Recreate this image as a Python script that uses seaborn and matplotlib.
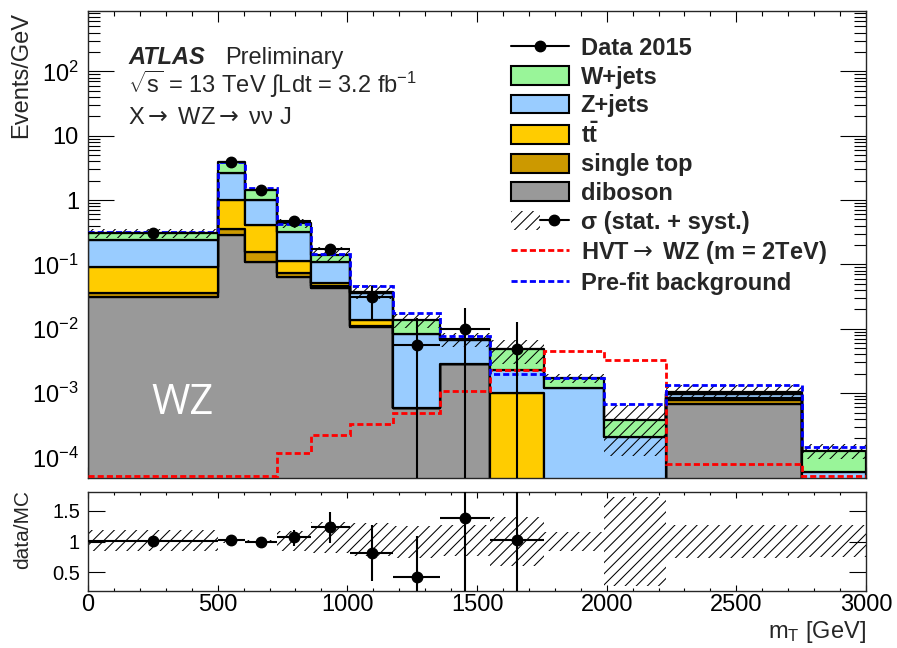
import numpy as np
import pandas as pd
import matplotlib
matplotlib.use("Agg")
import matplotlib.pyplot as plt
from matplotlib.patches import Patch
from matplotlib.lines import Line2D
from matplotlib.legend_handler import HandlerTuple
from matplotlib.ticker import MultipleLocator, FuncFormatter, NullFormatter, FixedLocator, FixedFormatter
import seaborn as sns

# ---- binning (GeV) ----
edges = [0, 500, 605, 727, 860, 1010, 1177, 1357, 1550, 1758, 1990, 2230, 2752, 3000]

# ---- background expectations (Events/GeV) ----
wjets     = [0.068, 1.25, 0.42, 0.113, 0.030, 0.0021, 0.0054, 0.0002, 0.0025, 0.0005, 0.00017, 0.00008, 0.000066]
zjets     = [0.147, 1.60, 0.58, 0.207, 0.058, 0.0218, 0.0077, 0.0039, 0.0013, 0.0012, 0.00021, 0.00012, 0.00006]
ttbar     = [0.056, 0.64, 0.26, 0.040, 0.0045, 0.0026, 0.0, 0.0, 0.00099, 0.0, 0.0, 0.00005, 0.0]
singletop = [0.005, 0.07, 0.047, 0.011, 0.004, 0.0003, 0.0, 0.0, 0.0, 0.0, 0.0, 0.00012, 0.0]
diboson   = [0.031, 0.29, 0.11, 0.063, 0.043, 0.0107, 0.00058, 0.0028, 0.0, 0.0, 0.0, 0.00067, 0.0]

# pre-fit total background and 2 TeV HVT signal
prefit = [0.32, 3.95, 1.52, 0.43, 0.148, 0.0465, 0.0179, 0.0077, 0.0020, 0.00172, 0.00067, 0.00136, 0.000143]
signal = [5.2e-5, 5.2e-5, 5.2e-5, 1.17e-4, 2.25e-4, 3.3e-4, 5.0e-4, 1.08e-3, 2.33e-3, 4.53e-3, 3.25e-3, 8.0e-5, 5.2e-5]

# relative background uncertainty (stat. + syst.)
band_hi = [1.18, 1.02, 1.02, 1.17, 1.32, 1.30, 1.25, 1.27, 1.40, 1.16, 1.72, 1.27, 1.27]
band_lo = [0.84, 0.98, 0.98, 0.84, 0.82, 0.77, 0.74, 0.76, 0.60, 0.84, 0.28, 0.73, 0.75]

# ---- data 2015 (first nine bins populated) ----
data    = [0.31, 3.90, 1.42, 0.47, 0.177, 0.0313, 0.0057, 0.0101, 0.0049]
data_up = [0.33, 4.00, 1.47, 0.51, 0.210, 0.0465, 0.0145, 0.0207, 0.0128]
data_dn = [0.29, 3.80, 1.37, 0.43, 0.145, 0.0141, 1e-6, 1e-6, 1e-6]

# ---- data / MC ----
ratio    = [1.01, 1.02, 0.99, 1.08, 1.23, 0.81, 0.42, 1.38, 1.03]
ratio_up = [1.03, 1.04, 1.01, 1.19, 1.48, 1.27, 1.09, 2.50, 2.50]
ratio_dn = [0.99, 1.00, 0.97, 0.93, 0.98, 0.355, 0.0, 0.0, 0.0]

# axis ticks
y_decades = [1e-4, 1e-3, 1e-2, 1e-1, 1, 10, 100]
ratio_ticks = [0.5, 1.0, 1.5]
ratio_ticklabels = ["0.5", "1", "1.5"]

processes = ["W+jets", "Z+jets", "ttbar", "single top", "diboson"]
colors = {"W+jets": "#99f599", "Z+jets": "#99ccff", "ttbar": "#ffcc00",
          "single top": "#cc9900", "diboson": "#999999"}

sns.set_style("ticks")
plt.rcParams["font.family"] = ["Liberation Sans", "DejaVu Sans"]
plt.rcParams["mathtext.fontset"] = "custom"
plt.rcParams["mathtext.rm"] = "Liberation Sans"
plt.rcParams["mathtext.it"] = "Liberation Sans:italic"
plt.rcParams["mathtext.bf"] = "Liberation Sans:bold"
plt.rcParams["mathtext.sf"] = "DejaVu Sans"
plt.rcParams["mathtext.default"] = "regular"
plt.rcParams["hatch.color"] = "black"
plt.rcParams["hatch.linewidth"] = 0.75
plt.rcParams["axes.linewidth"] = 1.0

ARROW = r"$\mathsf{\rightarrow}$"
HATCH = "///"

edges_a = np.array(edges, dtype=float)
centers = 0.5 * (edges_a[:-1] + edges_a[1:])
halfw = 0.5 * np.diff(edges_a)

rows = []
for name, vals in zip(processes, [wjets, zjets, ttbar, singletop, diboson]):
    for c, v in zip(centers, vals):
        rows.append({"mT": c, "rate": v, "process": name})
df = pd.DataFrame(rows)

W, H = 897, 648
fig = plt.figure(figsize=(W / 100, H / 100), dpi=100)
x0, x1 = 88, 866
ax = fig.add_axes([x0 / W, 1 - 478 / H, (x1 - x0) / W, (478 - 11) / H])
rax = fig.add_axes([x0 / W, 1 - 591 / H, (x1 - x0) / W, (591 - 492) / H])

ax.set_yscale("log")
sns.histplot(data=df, x="mT", weights="rate", hue="process", hue_order=processes,
             palette=colors, bins=edges, multiple="stack", element="step",
             stat="count", alpha=1, edgecolor="black", linewidth=1.6,
             legend=False, ax=ax, zorder=2)

total = np.array(wjets) + np.array(zjets) + np.array(ttbar) + np.array(singletop) + np.array(diboson)
lo = total * np.array(band_lo)
hi = total * np.array(band_hi)
ax.fill_between(edges_a, np.append(lo, lo[-1]), np.append(hi, hi[-1]), step="post",
                facecolor="none", edgecolor="black", hatch=HATCH, linewidth=0, zorder=3)

ax.stairs(signal, edges_a, baseline=None, color="#ff0000", linewidth=2,
          linestyle=(0, (2.2, 1.1)), zorder=4)
ax.stairs(prefit, edges_a, baseline=None, color="#0000ff", linewidth=2,
          linestyle=(0, (2.2, 1.1)), zorder=4)

nd = len(data)
d = np.array(data)
ax.errorbar(centers[:nd], d, xerr=halfw[:nd],
            yerr=[d - np.array(data_dn), np.array(data_up) - d],
            fmt="o", color="black", ms=7.5, elinewidth=1.5, capsize=0, zorder=6)

ax.set_xlim(0, 3000)
ax.set_ylim(4.8e-5, 870)
ax.set_xlabel("")
ax.set_ylabel("")
ax.xaxis.set_major_locator(MultipleLocator(500))
ax.xaxis.set_minor_locator(MultipleLocator(100))
ax.yaxis.set_major_locator(FixedLocator(y_decades))
minor_y = [m * dec for dec in [1e-5] + y_decades for m in range(2, 10)]
ax.yaxis.set_minor_locator(FixedLocator([v for v in minor_y if 4.8e-5 < v < 870]))
ax.yaxis.set_minor_formatter(NullFormatter())


def log_label(v, pos):
    e = int(round(np.log10(v)))
    if e == 0:
        return "1"
    if e == 1:
        return "10"
    return r"$10^{%d}$" % e


ax.yaxis.set_major_formatter(FuncFormatter(log_label))
ax.tick_params(which="both", direction="in", top=True, right=True, labelbottom=False,
               width=0.8, colors="black")
ax.tick_params(axis="y", which="major", length=18.5, labelsize=17, pad=6.5)
ax.tick_params(axis="y", which="minor", length=8.6)
ax.tick_params(axis="x", which="major", length=8)
ax.tick_params(axis="x", which="minor", length=3.6)

ax.text(0.122, 0.16, "WZ", transform=ax.transAxes, color="white", fontsize=30,
        family=["Open Sans", "DejaVu Sans"], ha="center", va="center")

# ---- ratio panel ----
rlo = np.array(band_lo)
rhi = np.array(band_hi)
rax.fill_between(edges_a, np.append(rlo, rlo[-1]), np.append(rhi, rhi[-1]), step="post",
                 facecolor="none", edgecolor="black", hatch=HATCH, linewidth=0, zorder=2)
r = np.array(ratio)
rax.errorbar(centers[:nd], r, xerr=halfw[:nd],
             yerr=[r - np.array(ratio_dn), np.array(ratio_up) - r],
             fmt="o", color="black", ms=7.5, elinewidth=1.5, capsize=0, zorder=5)
rax.set_xlim(0, 3000)
rax.set_ylim(0.2, 1.8)
rax.xaxis.set_major_locator(MultipleLocator(500))
rax.xaxis.set_minor_locator(MultipleLocator(100))
rax.yaxis.set_major_locator(FixedLocator(ratio_ticks))
rax.yaxis.set_major_formatter(FixedFormatter(ratio_ticklabels))
rax.tick_params(which="both", direction="in", top=True, right=True, width=0.8, colors="black")
rax.tick_params(axis="x", which="major", length=4.3, labelsize=17, pad=2)
rax.tick_params(axis="x", which="minor", length=2.5)
rax.tick_params(axis="y", which="major", length=12, labelsize=14.5, pad=5.8)

fig.text(32 / W, 1 - 12 / H, "Events/GeV", rotation=90, ha="right", va="top", fontsize=17)
fig.text(32 / W, 1 - 490 / H, "data/MC", rotation=90, ha="right", va="top", fontsize=15)
fig.text(866 / W, 1 - 632 / H, r"m$_{\mathrm{T}}$ [GeV]", ha="right", va="center", fontsize=17)

# ---- labels ----
fig.text(128 / W, 1 - 64 / H, "ATLAS", fontsize=17, fontweight="bold", style="italic", va="baseline")
fig.text(225 / W, 1 - 64 / H, "Preliminary", fontsize=17, va="baseline")
fig.text(128 / W, 1 - 93 / H, r"$\sqrt{s}$ = 13 TeV $\int$Ldt = 3.2 fb$^{-1}$", fontsize=17, va="baseline")
fig.text(128 / W, 1 - 124 / H, "X" + ARROW + " WZ" + ARROW + " \u03bd\u03bd J", fontsize=17, va="baseline")

# ---- legend ----
handles = [
    Line2D([], [], color="black", marker="o", ms=7.5, lw=1.5),
    Patch(facecolor=colors["W+jets"], edgecolor="black", lw=1.5),
    Patch(facecolor=colors["Z+jets"], edgecolor="black", lw=1.5),
    Patch(facecolor=colors["ttbar"], edgecolor="black", lw=1.5),
    Patch(facecolor=colors["single top"], edgecolor="black", lw=1.5),
    Patch(facecolor=colors["diboson"], edgecolor="black", lw=1.5),
    (Patch(facecolor="none", edgecolor="black", hatch=HATCH, lw=0),
     Line2D([], [], color="black", marker="o", ms=7.5, lw=1.5)),
    Line2D([], [], color="#ff0000", lw=2, linestyle=(0, (2.2, 1.1))),
    Line2D([], [], color="#0000ff", lw=2, linestyle=(0, (2.2, 1.1))),
]
labels = ["Data 2015", "W+jets", "Z+jets", r"$\mathbf{t\bar{t}}$", "single top", "diboson",
          "\u03c3 (stat. + syst.)", "HVT" + ARROW + " WZ (m = 2TeV)", "Pre-fit background"]
ax.legend(handles, labels, loc="upper left", bbox_to_anchor=((510.7 - x0) / (x1 - x0), (478 - 37) / 467),
          frameon=False, borderpad=0, borderaxespad=0, handlelength=2.46, handleheight=0.85,
          handletextpad=0.5, labelspacing=0.235, prop={"size": 17, "weight": "bold"},
          handler_map={tuple: HandlerTuple(ndivide=None)})

fig.savefig("out.png", dpi=100)
